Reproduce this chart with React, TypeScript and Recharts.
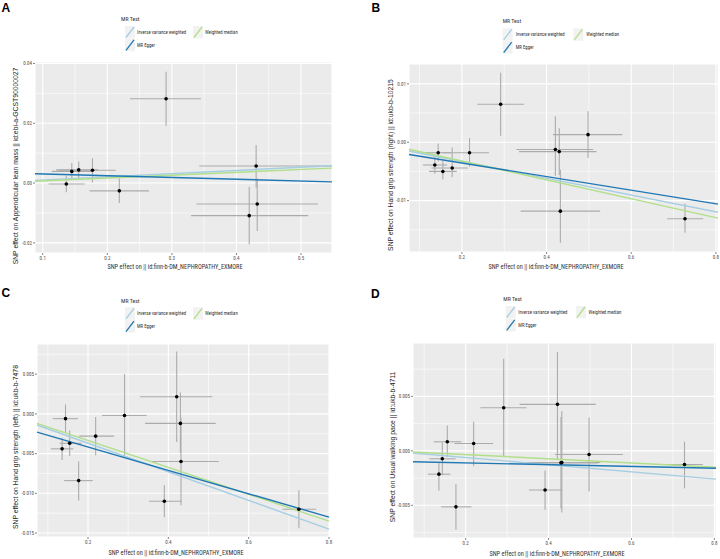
import React from 'react';
import { ScatterChart, Scatter, XAxis, YAxis, CartesianGrid, ErrorBar, ReferenceLine } from 'recharts';

const NARROW = '"Liberation Sans Narrow", "Roboto Condensed", "DejaVu Sans Condensed", "Liberation Sans", sans-serif';
const SANS = '"Liberation Sans", Arial, "DejaVu Sans", sans-serif';

const IVW_COLOR = '#A6CEE3';
const EGGER_COLOR = '#1F78B4';
const WM_COLOR = '#B2DF8A';

const xTitle = 'SNP effect on || id:finn-b-DM_NEPHROPATHY_EXMORE';

// ---------- Panel A : Appendicular lean mass ----------
const aExposure = [0.291, 0.1365, 0.145, 0.1557, 0.177, 0.2186, 0.4305, 0.4322, 0.4198];
const aOutcome = [0.0282, -0.0003, 0.0039, 0.0044, 0.0043, -0.0026, 0.0057, -0.007, -0.0109];
const aExposureErr = [[0.056, 0.054], [0.0275, 0.0285], [0.031, 0.031], [0.035, 0.03], [0.053, 0.036], [0.046, 0.046], [0.088, 0.117], [0.094, 0.094], [0.09, 0.0914]];
const aOutcomeErr = [[0.009, 0.009], [0.0028, 0.0027], [0.0028, 0.0028], [0.0029, 0.0028], [0.0041, 0.004], [0.0041, 0.0041], [0.0072, 0.007], [0.009, 0.0085], [0.0096, 0.0097]];
const aIvw = [0.0009, 0.0058];
const aEgger = [0.0031, 0.0004];
const aWm = [0.0006, 0.005];
const aXDomain = [0.088, 0.548];
const aYDomain = [-0.0234, 0.0405];
const aXTicks = [0.1, 0.2, 0.3, 0.4, 0.5];
const aYTicks = [-0.02, 0, 0.02, 0.04];
const aXMinor = [0.15, 0.25, 0.35, 0.45];
const aYMinor = [-0.01, 0.01, 0.03];
const aYTitle = 'SNP effect on Appendicular lean mass || id:ebi-a-GCST90000027';

// ---------- Panel B : Hand grip strength (right) ----------
const bExposure = [0.2915, 0.498, 0.4208, 0.43, 0.144, 0.218, 0.136, 0.155, 0.177, 0.4326, 0.727];
const bOutcome = [0.0065, 0.0013, -0.00125, -0.0016, -0.0018, -0.0018, -0.0039, -0.005, -0.0044, -0.0118, -0.0131];
const bExposureErr = [[0.0555, 0.0555], [0.083, 0.081], [0.092, 0.089], [0.095, 0.088], [0.03, 0.03], [0.063, 0.046], [0.028, 0.029], [0.033, 0.033], [0.049, 0.037], [0.094, 0.094], [0.042, 0.043]];
const bOutcomeErr = [[0.0054, 0.0054], [0.004, 0.004], [0.0045, 0.0057], [0.004, 0.004], [0.0015, 0.0016], [0.0024, 0.0025], [0.0015, 0.0014], [0.0014, 0.0018], [0.0016, 0.0035], [0.0054, 0.0071], [0.0024, 0.0026]];
const bIvw = [-0.0015, -0.012];
const bEgger = [-0.0021, -0.0106];
const bWm = [-0.0012, -0.013];
const bXDomain = [0.075, 0.805];
const bYDomain = [-0.0188, 0.0134];
const bXTicks = [0.2, 0.4, 0.6, 0.8];
const bYTicks = [-0.01, 0, 0.01];
const bXMinor = [0.1, 0.3, 0.5, 0.7];
const bYMinor = [-0.015, -0.005, 0.005];
const bYTitle = 'SNP effect on Hand grip strength (right) || id:ukb-b-10215';

// ---------- Panel C : Hand grip strength (left) ----------
const cExposure = [0.4208, 0.2909, 0.144, 0.43, 0.4315, 0.219, 0.1544, 0.1355, 0.1767, 0.39, 0.725];
const cOutcome = [0.00215, -0.0002, -0.0006, -0.0012, -0.006, -0.0028, -0.0037, -0.0044, -0.0084, -0.011, -0.012];
const cExposureErr = [[0.091, 0.089], [0.056, 0.055], [0.032, 0.031], [0.088, 0.088], [0.0725, 0.0945], [0.041, 0.046], [0.025, 0.03], [0.028, 0.028], [0.036, 0.035], [0.038, 0.043], [0.041, 0.043]];
const cOutcomeErr = [[0.0057, 0.0057], [0.0052, 0.0052], [0.0018, 0.0018], [0.0037, 0.0039], [0.0055, 0.0055], [0.0024, 0.0024], [0.0016, 0.0016], [0.0014, 0.0014], [0.0025, 0.0024], [0.002, 0.002], [0.0024, 0.0024]];
const cIvw = [-0.0014, -0.0145];
const cEgger = [-0.0023, -0.013];
const cWm = [-0.0012, -0.0135];
const cXDomain = [0.073, 0.8];
const cYDomain = [-0.0155, 0.0088];
const cXTicks = [0.2, 0.4, 0.6, 0.8];
const cYTicks = [-0.015, -0.01, -0.005, 0, 0.005];
const cXMinor = [0.1, 0.3, 0.5, 0.7];
const cYMinor = [-0.0125, -0.0075, -0.0025, 0.0025, 0.0075];
const cYTitle = 'SNP effect on Hand grip strength (left) || id:ukb-b-7478';

// ---------- Panel D : Usual walking pace ----------
const dExposure = [0.2918, 0.4215, 0.4978, 0.432, 0.43, 0.1558, 0.2193, 0.1437, 0.1355, 0.1766, 0.3916, 0.728];
const dOutcome = [0.00396, 0.00427, -0.00033, -0.00107, -0.0011, 0.00083, 0.00068, -0.00073, -0.00214, -0.00514, -0.0036, -0.00125];
const dExposureErr = [[0.0563, 0.0548], [0.0915, 0.0925], [0.0828, 0.0817], [0.102, 0.093], [0.1, 0.09], [0.033, 0.034], [0.046, 0.047], [0.031, 0.032], [0.0265, 0.0275], [0.0356, 0.0371], [0.0386, 0.0414], [0.042, 0.044]];
const dOutcomeErr = [[0.0045, 0.0045], [0.005, 0.0048], [0.0034, 0.0034], [0.0046, 0.0047], [0.0042, 0.0042], [0.0014, 0.0015], [0.0021, 0.002], [0.0015, 0.0015], [0.0015, 0.0011], [0.0021, 0.0021], [0.0018, 0.0018], [0.0022, 0.0021]];
const dIvw = [-0.0002, -0.0026];
const dEgger = [-0.001, -0.0016];
const dWm = [-0.0001, -0.0015];
const dXDomain = [0.073, 0.804];
const dYDomain = [-0.008, 0.0099];
const dXTicks = [0.2, 0.4, 0.6, 0.8];
const dYTicks = [-0.005, 0, 0.005];
const dXMinor = [0.1, 0.3, 0.5, 0.7];
const dYMinor = [-0.0075, -0.0025, 0.0025, 0.0075];
const dYTitle = 'SNP effect on Usual walking pace || id:ukb-b-4711';

type PanelProps = {
  exposure: number[];
  outcome: number[];
  exposureErr: number[][];
  outcomeErr: number[][];
  ivw: number[];
  egger: number[];
  wm: number[];
  xDomain: number[];
  yDomain: number[];
  xTicks: number[];
  yTicks: number[];
  xMinor: number[];
  yMinor: number[];
  xDigits: number;
  yDigits: number;
  left: number;
  top: number;
  height: number;
  margin: { top: number; right: number; bottom: number; left: number };
};

const Panel = (p: PanelProps) => {
  const data = p.exposure.map((x, i) => ({ x, y: p.outcome[i], ex: p.exposureErr[i], ey: p.outcomeErr[i] }));
  const seg = (l: number[]) => [
    { x: p.xDomain[0], y: l[0] },
    { x: p.xDomain[1], y: l[1] },
  ];
  const tickStyle = { fontSize: 5, fill: '#4D4D4D', fontFamily: NARROW };
  return (
    <div style={{ position: 'absolute', left: p.left, top: p.top }}>
      <ScatterChart width={360} height={p.height} margin={p.margin}>
        <CartesianGrid fill="#EBEBEB" stroke="#FFFFFF" strokeWidth={0.6} verticalValues={p.xMinor} horizontalValues={p.yMinor} />
        <CartesianGrid stroke="#FFFFFF" strokeWidth={1.1} />
        <XAxis
          type="number"
          dataKey="x"
          domain={p.xDomain}
          allowDataOverflow
          ticks={p.xTicks}
          tickFormatter={(v: number) => v.toFixed(p.xDigits)}
          axisLine={false}
          tickLine={{ stroke: '#333333', strokeWidth: 0.6 }}
          tickSize={2}
          tickMargin={1}
          height={20}
          tick={tickStyle}
        />
        <YAxis
          type="number"
          dataKey="y"
          domain={p.yDomain}
          allowDataOverflow
          ticks={p.yTicks}
          tickFormatter={(v: number) => v.toFixed(p.yDigits)}
          axisLine={false}
          tickLine={{ stroke: '#333333', strokeWidth: 0.6 }}
          tickSize={2}
          tickMargin={1}
          width={30}
          tick={tickStyle}
        />
        <Scatter
          data={data}
          isAnimationActive={false}
          shape={(s: any) => <circle cx={s.cx} cy={s.cy} r={1.8} fill="#000000" />}
        >
          <ErrorBar dataKey="ex" direction="x" width={0} stroke="#ABABAB" strokeWidth={1.1} isAnimationActive={false} />
          <ErrorBar dataKey="ey" direction="y" width={0} stroke="#ABABAB" strokeWidth={1.1} isAnimationActive={false} />
        </Scatter>
        <ReferenceLine segment={seg(p.ivw)} stroke={IVW_COLOR} strokeWidth={1.4} ifOverflow="visible" />
        <ReferenceLine segment={seg(p.wm)} stroke={WM_COLOR} strokeWidth={1.4} ifOverflow="visible" />
        <ReferenceLine segment={seg(p.egger)} stroke={EGGER_COLOR} strokeWidth={1.4} ifOverflow="visible" />
      </ScatterChart>
    </div>
  );
};

const LegendBlock = ({ ox, oy, titleX, titleY, keyX, key2X, rowY, textGap }: any) => {
  const key = (x: number, y: number, color: string) => (
    <g>
      <rect x={x} y={y} width={10} height={12.5} fill="#F2F2F2" />
      <line x1={x + 1} y1={y + 11.5} x2={x + 9} y2={y + 1} stroke={color} strokeWidth={1.3} />
    </g>
  );
  const txt = { fontFamily: NARROW, fontSize: 4.8, fill: '#333333' } as any;
  return (
    <g transform={`translate(${ox},${oy})`}>
      <text x={titleX} y={titleY} style={{ fontFamily: NARROW, fontSize: 5.8, fill: '#333333' }}>MR Test</text>
      {key(keyX, rowY, IVW_COLOR)}
      <text x={keyX + textGap} y={rowY + 6.25} dominantBaseline="central" style={txt}>Inverse variance weighted</text>
      {key(key2X, rowY, WM_COLOR)}
      <text x={key2X + textGap} y={rowY + 6.25} dominantBaseline="central" style={txt}>Weighted median</text>
      {key(keyX, rowY + 12.8, EGGER_COLOR)}
      <text x={keyX + textGap} y={rowY + 19} dominantBaseline="central" style={txt}>MR Egger</text>
    </g>
  );
};

const YTitle = ({ x, y, text }: any) => (
  <text
    x={x}
    y={y}
    transform={`rotate(-90 ${x} ${y})`}
    textAnchor="middle"
    dominantBaseline="central"
    style={{ fontFamily: SANS, fontSize: 6.8, fill: '#222222' }}
  >
    {text}
  </text>
);

const XTitle = ({ x, y, text }: any) => (
  <text x={x} y={y} textAnchor="middle" dominantBaseline="central" style={{ fontFamily: NARROW, fontSize: 6.3, fill: '#333333' }}>
    {text}
  </text>
);

const Letter = ({ x, y, t }: any) => (
  <text x={x} y={y} style={{ fontFamily: SANS, fontSize: 12, fontWeight: 700, fill: '#000' }}>{t}</text>
);

export default function App() {
  return (
    <div style={{ position: 'absolute', left: 0, top: 0, width: 720, height: 559, background: '#FFFFFF', overflow: 'hidden' }}>
      <Panel
        exposure={aExposure} outcome={aOutcome} exposureErr={aExposureErr} outcomeErr={aOutcomeErr}
        ivw={aIvw} egger={aEgger} wm={aWm}
        xDomain={aXDomain} yDomain={aYDomain} xTicks={aXTicks} yTicks={aYTicks} xMinor={aXMinor} yMinor={aYMinor}
        xDigits={1} yDigits={2}
        left={0} top={0} height={280}
        margin={{ top: 62, right: 28, bottom: 7, left: 5 }}
      />
      <Panel
        exposure={bExposure} outcome={bOutcome} exposureErr={bExposureErr} outcomeErr={bOutcomeErr}
        ivw={bIvw} egger={bEgger} wm={bWm}
        xDomain={bXDomain} yDomain={bYDomain} xTicks={bXTicks} yTicks={bYTicks} xMinor={bXMinor} yMinor={bYMinor}
        xDigits={1} yDigits={2}
        left={360} top={0} height={280}
        margin={{ top: 64, right: 2, bottom: 8, left: 19 }}
      />
      <Panel
        exposure={cExposure} outcome={cOutcome} exposureErr={cExposureErr} outcomeErr={cOutcomeErr}
        ivw={cIvw} egger={cEgger} wm={cWm}
        xDomain={cXDomain} yDomain={cYDomain} xTicks={cXTicks} yTicks={cYTicks} xMinor={cXMinor} yMinor={cYMinor}
        xDigits={1} yDigits={3}
        left={0} top={280} height={279}
        margin={{ top: 64, right: 31, bottom: 2, left: 7 }}
      />
      <Panel
        exposure={dExposure} outcome={dOutcome} exposureErr={dExposureErr} outcomeErr={dOutcomeErr}
        ivw={dIvw} egger={dEgger} wm={dWm}
        xDomain={dXDomain} yDomain={dYDomain} xTicks={dXTicks} yTicks={dYTicks} xMinor={dXMinor} yMinor={dYMinor}
        xDigits={1} yDigits={3}
        left={360} top={280} height={279}
        margin={{ top: 63, right: 4, bottom: 1, left: 23 }}
      />
      <svg width={720} height={559} style={{ position: 'absolute', left: 0, top: 0, pointerEvents: 'none' }}>
        <Letter x={1.5} y={12} t="A" />
        <Letter x={371.5} y={12} t="B" />
        <Letter x={1.5} y={297} t="C" />
        <Letter x={371} y={297.5} t="D" />

        <LegendBlock ox={0} oy={0} titleX={121} titleY={21} keyX={125} key2X={193} rowY={26} textGap={12} />
        <LegendBlock ox={360} oy={0} titleX={142.7} titleY={23} keyX={142.7} key2X={213.3} rowY={28.3} textGap={13} />
        <LegendBlock ox={0} oy={280} titleX={121} titleY={23} keyX={125} key2X={193} rowY={27.3} textGap={12} />
        <LegendBlock ox={360} oy={280} titleX={143.3} titleY={21} keyX={145.7} key2X={216} rowY={26} textGap={12.6} />

        <YTitle x={15} y={166} text={aYTitle} />
        <YTitle x={390} y={165} text={bYTitle} />
        <YTitle x={15} y={447} text={cYTitle} />
        <YTitle x={392} y={447} text={dYTitle} />

        <XTitle x={175} y={266.7} text={xTitle} />
        <XTitle x={556} y={266.7} text={xTitle} />
        <XTitle x={176} y={552.7} text={xTitle} />
        <XTitle x={557} y={554} text={xTitle} />
      </svg>
    </div>
  );
}
